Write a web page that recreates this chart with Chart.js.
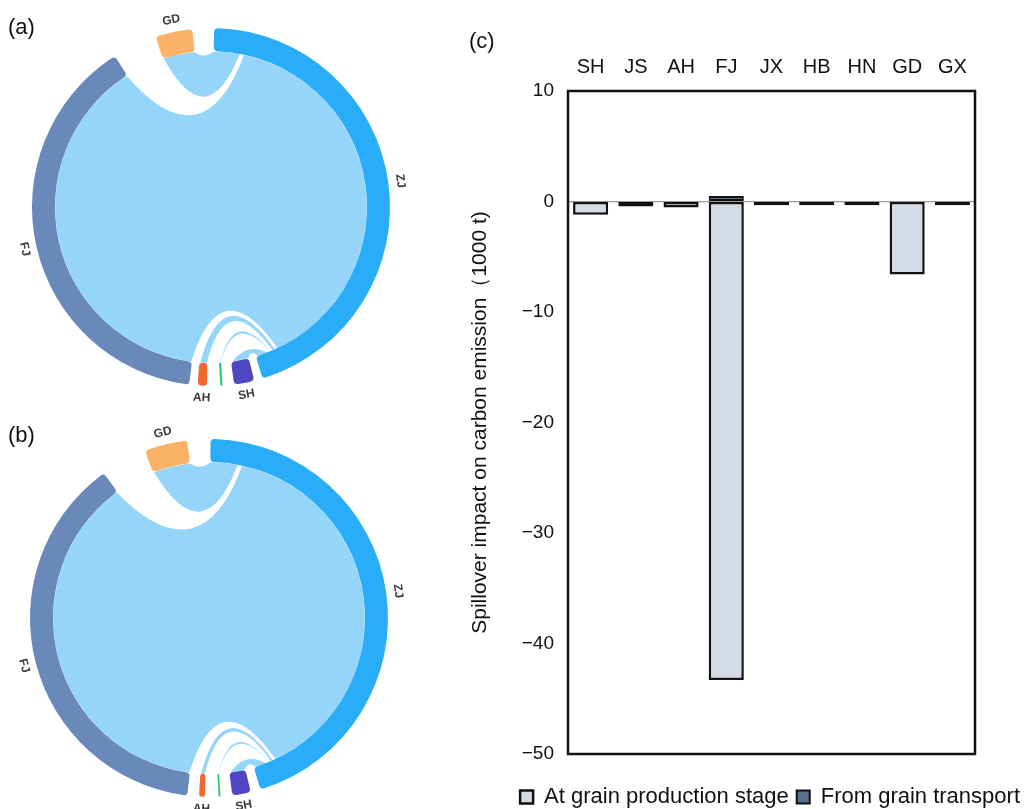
<!DOCTYPE html>
<html>
<head>
<meta charset="utf-8">
<script src="https://cdn.jsdelivr.net/npm/chart.js@4.4.1/dist/chart.umd.min.js"></script>
<style>
  body { margin: 0; background: #fff; }
  #wrap { position: relative; width: 1028px; height: 809px; overflow: hidden; font-family: "Liberation Sans", Arial, sans-serif; }
  canvas { position: absolute; }
  .tag { position: absolute; font-size: 22px; color: #111; line-height: 1; }
</style>
</head>
<body>
<div id="wrap">
  <canvas id="chordA" width="430" height="405" style="left:0;top:0"></canvas>
  <canvas id="chordB" width="430" height="404" style="left:0;top:405px"></canvas>
  <canvas id="spill" width="568" height="809" style="left:460px;top:0"></canvas>
  <div class="tag" style="left:8px;top:16px">(a)</div>
  <div class="tag" style="left:8px;top:424px">(b)</div>
  <div class="tag" style="left:469px;top:30px">(c)</div>
</div>
<script>
// regions round the circle, clockwise from the top
var regions = ['ZJ', 'SH', 'JS', 'AH', 'FJ', 'GD'];
var regionColors = ['#2aadf8', '#4f46c3', '#2bc46b', '#f0682f', '#6a89bb', '#fcb266'];

// arc of each region (degrees) and blank gaps before/after them
var arcA = [162.3, 6.6, 0.7, 3.0, 140.5, 12.0];
var gapA = [1, 2.7, 3.7, 4.3, 2.7, 14.5, 6];
var arcB = [162.8, 6.0, 0.6, 1.9, 137.0, 14.0];
var gapB = [0.5, 3.2, 3.8, 4.4, 3.8, 15, 7];

// flows: [region, from, to, region, from, to]  (degrees inside each arc)
var linksA = [
    ['GD', 0, 12, 'ZJ', 0, 10],
    ['ZJ', 11, 154, 'FJ', 0, 140.5],
    ['ZJ', 154.5, 156, 'AH', 0, 3.0],
    ['ZJ', 156.3, 157, 'JS', 0, 0.7],
    ['ZJ', 157.3, 161.8, 'SH', 0, 6.6]
];
var linksB = [
    ['GD', 0, 14, 'ZJ', 0, 10.5],
    ['ZJ', 11.5, 154.5, 'FJ', 0, 137],
    ['ZJ', 155, 156.3, 'AH', 0, 1.9],
    ['ZJ', 156.6, 157.2, 'JS', 0, 0.6],
    ['ZJ', 157.5, 162.3, 'SH', 0, 6.0]
];

// panel (c)
var provinces = ['SH', 'JS', 'AH', 'FJ', 'JX', 'HB', 'HN', 'GD', 'GX'];
var production = [-1.2, -0.45, -0.55, -43.3, -0.35, -0.35, -0.35, -6.6, -0.35];
var transport = [0, 0, 0, 0.5, 0, 0, 0, 0, 0];

var FONT = '"Liberation Sans", Arial, sans-serif';
Chart.defaults.font.family = FONT;

function chordPlugin(links) {
    return {
        id: 'chordRibbons',
        beforeDatasetsDraw: function (chart) {
            var els = chart.getDatasetMeta(0).data;
            var vals = chart.data.datasets[0].data;
            var ctx = chart.ctx;
            var cx = els[1].x, cy = els[1].y, r = els[1].innerRadius + 0.5;

            function ang(name, off) {
                var i = 2 * regions.indexOf(name) + 1;
                return els[i].startAngle + (els[i].endAngle - els[i].startAngle) * off / vals[i];
            }
            function bend(a1, a2) {
                var bx = Math.cos(a1) + Math.cos(a2), by = Math.sin(a1) + Math.sin(a2);
                var bl = Math.hypot(bx, by) || 1;
                var dot = Math.cos(a1) * Math.cos(a2) + Math.sin(a1) * Math.sin(a2);
                var span = Math.acos(Math.max(-1, Math.min(1, dot))) * 180 / Math.PI;
                var k = Math.min(0.95, 12.6 / Math.max(span, 1));
                ctx.quadraticCurveTo(cx + bx / bl * k * r, cy + by / bl * k * r,
                    cx + r * Math.cos(a2), cy + r * Math.sin(a2));
            }

            ctx.save();
            ctx.fillStyle = '#96d5fa';
            ctx.strokeStyle = '#ffffff';
            ctx.lineWidth = 1.5;
            links.forEach(function (l) {
                var a0 = ang(l[0], l[1]), a1 = ang(l[0], l[2]);
                var b0 = ang(l[3], l[4]), b1 = ang(l[3], l[5]);
                ctx.beginPath();
                ctx.arc(cx, cy, r, a0, a1);
                bend(a1, b0);
                ctx.arc(cx, cy, r, b0, b1);
                bend(b1, a0);
                ctx.closePath();
                ctx.fill();
                ctx.stroke();
            });
            ctx.restore();
        },
        afterDatasetsDraw: function (chart) {
            var els = chart.getDatasetMeta(0).data;
            var ctx = chart.ctx;
            ctx.save();
            ctx.font = 'bold 12px ' + FONT;
            ctx.fillStyle = '#3a3a3a';
            ctx.textAlign = 'center';
            ctx.textBaseline = 'middle';
            regions.forEach(function (name, n) {
                if (name === 'JS') return;
                var el = els[2 * n + 1];
                var mid = (el.startAngle + el.endAngle) / 2;
                var rr = el.outerRadius + 12;
                var deg = ((mid * 180 / Math.PI + 90) % 360 + 360) % 360;
                var rot = (deg > 90 && deg < 270) ? deg - 180 : deg;
                ctx.save();
                ctx.translate(el.x + rr * Math.cos(mid), el.y + rr * Math.sin(mid));
                ctx.rotate(rot * Math.PI / 180);
                ctx.fillText(name, 0, 0);
                ctx.restore();
            });
            ctx.restore();
        }
    };
}

function chord(id, arcs, gaps, links, pad) {
    var data = [], colors = [], labels = [];
    for (var i = 0; i < arcs.length; i++) {
        data.push(gaps[i], arcs[i]);
        colors.push('rgba(0,0,0,0)', regionColors[i]);
        labels.push('', regions[i]);
    }
    data.push(gaps[arcs.length]);
    colors.push('rgba(0,0,0,0)');
    labels.push('');

    new Chart(document.getElementById(id).getContext('2d'), {
        type: 'doughnut',
        data: {
            labels: labels,
            datasets: [{ data: data, backgroundColor: colors, borderWidth: 0, borderRadius: 4 }]
        },
        options: {
            responsive: false,
            animation: false,
            events: [],
            cutout: 156,
            layout: { padding: pad },
            plugins: { legend: { display: false }, tooltip: { enabled: false } }
        },
        plugins: [chordPlugin(links)]
    });
}

chord('chordA', arcA, gapA, linksA, { left: 32, top: 28, right: 40, bottom: 19 });
chord('chordB', arcB, gapB, linksB, { left: 30, top: 34, right: 42, bottom: 12 });

var frame = {
    id: 'frame',
    afterDatasetsDraw: function (chart) {
        var a = chart.chartArea, ctx = chart.ctx;
        ctx.save();
        ctx.strokeStyle = '#111';
        ctx.lineWidth = 2.5;
        ctx.strokeRect(a.left, a.top, a.right - a.left, a.bottom - a.top);
        ctx.restore();
    }
};

new Chart(document.getElementById('spill').getContext('2d'), {
    type: 'bar',
    data: {
        labels: provinces,
        datasets: [
            {
                label: 'At grain production stage',
                data: production,
                backgroundColor: '#d5dbe6',
                borderColor: '#111',
                borderWidth: 2.5,
                borderSkipped: false,
                categoryPercentage: 0.8,
                barPercentage: 0.97
            },
            {
                label: 'From grain transport',
                data: transport,
                backgroundColor: '#5a6d8e',
                borderColor: '#111',
                borderWidth: 2,
                borderSkipped: false,
                categoryPercentage: 0.8,
                barPercentage: 0.97
            }
        ]
    },
    options: {
        responsive: false,
        animation: false,
        events: [],
        layout: { padding: { bottom: -9 } },
        scales: {
            x: {
                position: 'top',
                stacked: true,
                grid: { display: false, drawTicks: false },
                border: { display: false },
                ticks: { color: '#111', font: { size: 20 }, padding: 12, maxRotation: 0 },
                afterFit: function (s) { s.height = 91; }
            },
            x2: {
                position: 'bottom',
                grid: { display: false },
                border: { display: false },
                ticks: { display: false },
                afterFit: function (s) { s.height = 24; }
            },
            y: {
                min: -50,
                max: 10,
                stacked: true,
                ticks: {
                    stepSize: 10,
                    padding: 14,
                    color: '#111',
                    font: { size: 19 },
                    callback: function (v) { return String(v).replace('-', '\u2212'); }
                },
                grid: {
                    drawTicks: false,
                    lineWidth: 1.2,
                    color: function (c) { return c.tick && c.tick.value === 0 ? '#9a9a9a' : 'rgba(0,0,0,0)'; }
                },
                border: { display: false },
                title: {
                    display: true,
                    text: 'Spillover impact on carbon emission\uff081000 t)',
                    color: '#111',
                    font: { size: 21 },
                    padding: { top: 8, bottom: 0 }
                },
                afterFit: function (s) { s.width = 108; }
            },
            y2: {
                position: 'right',
                grid: { display: false },
                border: { display: false },
                ticks: { display: false },
                afterFit: function (s) { s.width = 53; }
            }
        },
        plugins: {
            legend: {
                position: 'bottom',
                align: 'end',
                labels: { boxWidth: 13, boxHeight: 13, padding: 8, color: '#111', font: { size: 22 } }
            },
            tooltip: { enabled: false }
        }
    },
    plugins: [frame]
});
</script>
</body>
</html>
